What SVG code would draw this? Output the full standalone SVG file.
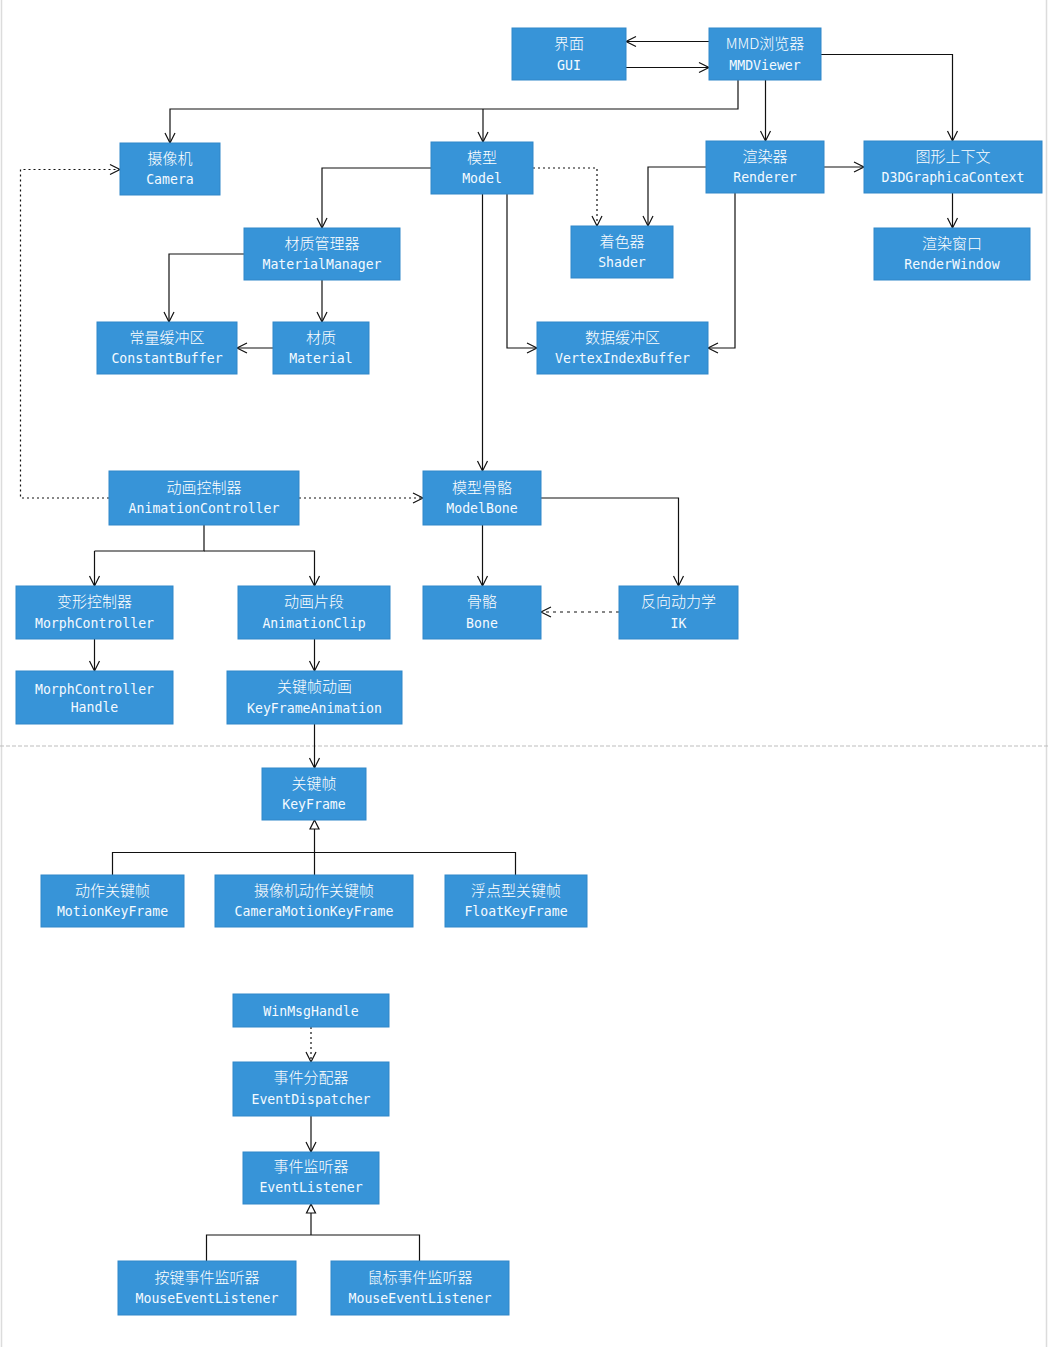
<svg xmlns="http://www.w3.org/2000/svg" width="1048" height="1347" viewBox="0 0 1048 1347">
<style>
.box{fill:#3794d8;stroke:#3087c9;stroke-width:1}
.cn{font-family:"Noto Sans CJK SC","Noto Sans",sans-serif;font-size:15px;font-weight:300;fill:#ffffff;text-anchor:middle}
.en{font-family:"DejaVu Sans Mono","Liberation Mono",monospace;font-size:13.2px;fill:#f4faff;text-anchor:middle}
.ln{fill:none;stroke:#111;stroke-width:1.2}
.dot{stroke-dasharray:2,3}
.dash{stroke-dasharray:3,4}
.arr{marker-end:url(#open)}
.inh{marker-end:url(#tri)}
</style>
<defs>
<marker id="open" markerUnits="userSpaceOnUse" viewBox="-12 -7 14 14" refX="0" refY="0" markerWidth="14" markerHeight="14" orient="auto">
<path d="M-10,-5 L0,0 L-10,5" fill="none" stroke="#111" stroke-width="1.2"/>
</marker>
<marker id="tri" markerUnits="userSpaceOnUse" viewBox="-11 -6 13 12" refX="0" refY="0" markerWidth="13" markerHeight="12" orient="auto">
<path d="M0,0 L-9,-4.5 L-9,4.5 Z" fill="#fff" stroke="#111" stroke-width="1.2"/>
</marker>
</defs>
<rect width="1048" height="1347" fill="#fff"/>
<line x1="1.5" y1="0" x2="1.5" y2="1347" stroke="#dcdcdc" stroke-width="1.5"/>
<line x1="1046.5" y1="0" x2="1046.5" y2="1347" stroke="#dcdcdc" stroke-width="1.5"/>
<line x1="0" y1="746" x2="1048" y2="746" stroke="#bdbdbd" stroke-width="1" stroke-dasharray="4,2"/>

<g id="connectors">
<path class="ln arr" d="M709,41.5 H626"/>
<path class="ln arr" d="M626,67.5 H709"/>
<path class="ln arr" d="M738,80 V109 H170 V143"/>
<path class="ln arr" d="M483,109 V142"/>
<path class="ln arr" d="M765.5,80 V141"/>
<path class="ln arr" d="M821,54.5 H952.5 V141"/>
<path class="ln arr" d="M824,167 H864"/>
<path class="ln arr" d="M706,167 H648 V226"/>
<path class="ln dot arr" d="M533,168 H597 V226"/>
<path class="ln arr" d="M735,193 V348 H708"/>
<path class="ln arr" d="M507,194 V348 H537"/>
<path class="ln arr" d="M482.5,194 V471"/>
<path class="ln arr" d="M431,168 H322 V228"/>
<path class="ln arr" d="M244,254 H169 V322"/>
<path class="ln arr" d="M322,280 V322"/>
<path class="ln arr" d="M273,348 H237"/>
<path class="ln arr" d="M952.5,193 V228"/>
<path class="ln dot arr" d="M109,498 H20.5 V169.5 H120"/>
<path class="ln dot arr" d="M299,498 H423"/>
<path class="ln" d="M204,525 V551 H94.5"/>
<path class="ln arr" d="M94.5,551 V586"/>
<path class="ln arr" d="M204,551 H314.5 V586"/>
<path class="ln arr" d="M94.5,639 V671"/>
<path class="ln arr" d="M314.5,639 V671"/>
<path class="ln arr" d="M314.5,724 V768"/>
<path class="ln arr" d="M482.5,525 V586"/>
<path class="ln arr" d="M541,498 H678.5 V586"/>
<path class="ln dash arr" d="M619,612 H541"/>
<path class="ln" d="M112.5,875 V852.5 H515.5 V875"/>
<path class="ln inh" d="M314.5,875 V820"/>
<path class="ln dot arr" d="M311,1027 V1062"/>
<path class="ln arr" d="M311,1116 V1152"/>
<path class="ln" d="M206.5,1261 V1235 H419.5 V1261"/>
<path class="ln inh" d="M311,1235 V1204"/>
</g>

<g id="gui"><rect class="box" x="512" y="28" width="114" height="52"/><text class="cn" x="569" y="49">界面</text><text class="en" x="569" y="70">GUI</text></g>
<g id="mmdviewer"><rect class="box" x="709" y="28" width="112" height="52"/><text class="cn" x="765" y="49">MMD浏览器</text><text class="en" x="765" y="70">MMDViewer</text></g>
<g id="camera"><rect class="box" x="120" y="143" width="100" height="52"/><text class="cn" x="170" y="163.5">摄像机</text><text class="en" x="170" y="184">Camera</text></g>
<g id="model"><rect class="box" x="431" y="142" width="102" height="52"/><text class="cn" x="482" y="162.5">模型</text><text class="en" x="482" y="183">Model</text></g>
<g id="renderer"><rect class="box" x="706" y="141" width="118" height="52"/><text class="cn" x="765" y="161.5">渲染器</text><text class="en" x="765" y="182">Renderer</text></g>
<g id="d3dcontext"><rect class="box" x="864" y="141" width="178" height="52"/><text class="cn" x="953" y="161.5">图形上下文</text><text class="en" x="953" y="182">D3DGraphicaContext</text></g>
<g id="renderwindow"><rect class="box" x="874" y="228" width="156" height="52"/><text class="cn" x="952" y="248.5">渲染窗口</text><text class="en" x="952" y="269">RenderWindow</text></g>
<g id="materialmanager"><rect class="box" x="244" y="228" width="156" height="52"/><text class="cn" x="322" y="248.5">材质管理器</text><text class="en" x="322" y="269">MaterialManager</text></g>
<g id="shader"><rect class="box" x="571" y="226" width="102" height="52"/><text class="cn" x="622" y="246.5">着色器</text><text class="en" x="622" y="267">Shader</text></g>
<g id="constantbuffer"><rect class="box" x="97" y="322" width="140" height="52"/><text class="cn" x="167" y="342.5">常量缓冲区</text><text class="en" x="167" y="363">ConstantBuffer</text></g>
<g id="material"><rect class="box" x="273" y="322" width="96" height="52"/><text class="cn" x="321" y="342.5">材质</text><text class="en" x="321" y="363">Material</text></g>
<g id="vertexindexbuffer"><rect class="box" x="537" y="322" width="171" height="52"/><text class="cn" x="622.5" y="342.5">数据缓冲区</text><text class="en" x="622.5" y="363">VertexIndexBuffer</text></g>
<g id="animationcontroller"><rect class="box" x="109" y="471" width="190" height="54"/><text class="cn" x="204" y="492.5">动画控制器</text><text class="en" x="204" y="513">AnimationController</text></g>
<g id="modelbone"><rect class="box" x="423" y="471" width="118" height="54"/><text class="cn" x="482" y="492.5">模型骨骼</text><text class="en" x="482" y="513">ModelBone</text></g>
<g id="morphcontroller"><rect class="box" x="16" y="586" width="157" height="53"/><text class="cn" x="94.5" y="607">变形控制器</text><text class="en" x="94.5" y="628">MorphController</text></g>
<g id="animationclip"><rect class="box" x="238" y="586" width="152" height="53"/><text class="cn" x="314" y="607">动画片段</text><text class="en" x="314" y="628">AnimationClip</text></g>
<g id="bone"><rect class="box" x="423" y="586" width="118" height="53"/><text class="cn" x="482" y="607">骨骼</text><text class="en" x="482" y="628">Bone</text></g>
<g id="ik"><rect class="box" x="619" y="586" width="119" height="53"/><text class="cn" x="678.5" y="607">反向动力学</text><text class="en" x="678.5" y="628">IK</text></g>
<g id="morphcontrollerhandle"><rect class="box" x="16" y="671" width="157" height="53"/><text class="en" x="94.5" y="694">MorphController</text><text class="en" x="94.5" y="712">Handle</text></g>
<g id="keyframeanimation"><rect class="box" x="227" y="671" width="175" height="53"/><text class="cn" x="314.5" y="692">关键帧动画</text><text class="en" x="314.5" y="713">KeyFrameAnimation</text></g>
<g id="keyframe"><rect class="box" x="262" y="768" width="104" height="52"/><text class="cn" x="314" y="788.5">关键帧</text><text class="en" x="314" y="809">KeyFrame</text></g>
<g id="motionkeyframe"><rect class="box" x="41" y="875" width="143" height="52"/><text class="cn" x="112.5" y="895.5">动作关键帧</text><text class="en" x="112.5" y="916">MotionKeyFrame</text></g>
<g id="cameramotionkeyframe"><rect class="box" x="215" y="875" width="198" height="52"/><text class="cn" x="314" y="895.5">摄像机动作关键帧</text><text class="en" x="314" y="916">CameraMotionKeyFrame</text></g>
<g id="floatkeyframe"><rect class="box" x="445" y="875" width="142" height="52"/><text class="cn" x="516" y="895.5">浮点型关键帧</text><text class="en" x="516" y="916">FloatKeyFrame</text></g>
<g id="winmsghandle"><rect class="box" x="233" y="994" width="156" height="33"/><text class="en" x="311" y="1015.5">WinMsgHandle</text></g>
<g id="eventdispatcher"><rect class="box" x="233" y="1062" width="156" height="54"/><text class="cn" x="311" y="1083">事件分配器</text><text class="en" x="311" y="1104">EventDispatcher</text></g>
<g id="eventlistener"><rect class="box" x="243" y="1152" width="136" height="52"/><text class="cn" x="311" y="1172">事件监听器</text><text class="en" x="311" y="1192">EventListener</text></g>
<g id="keyeventlistener"><rect class="box" x="118" y="1261" width="178" height="54"/><text class="cn" x="207" y="1282.5">按键事件监听器</text><text class="en" x="207" y="1303">MouseEventListener</text></g>
<g id="mouseeventlistener"><rect class="box" x="331" y="1261" width="178" height="54"/><text class="cn" x="420" y="1282.5">鼠标事件监听器</text><text class="en" x="420" y="1303">MouseEventListener</text></g>
</svg>
